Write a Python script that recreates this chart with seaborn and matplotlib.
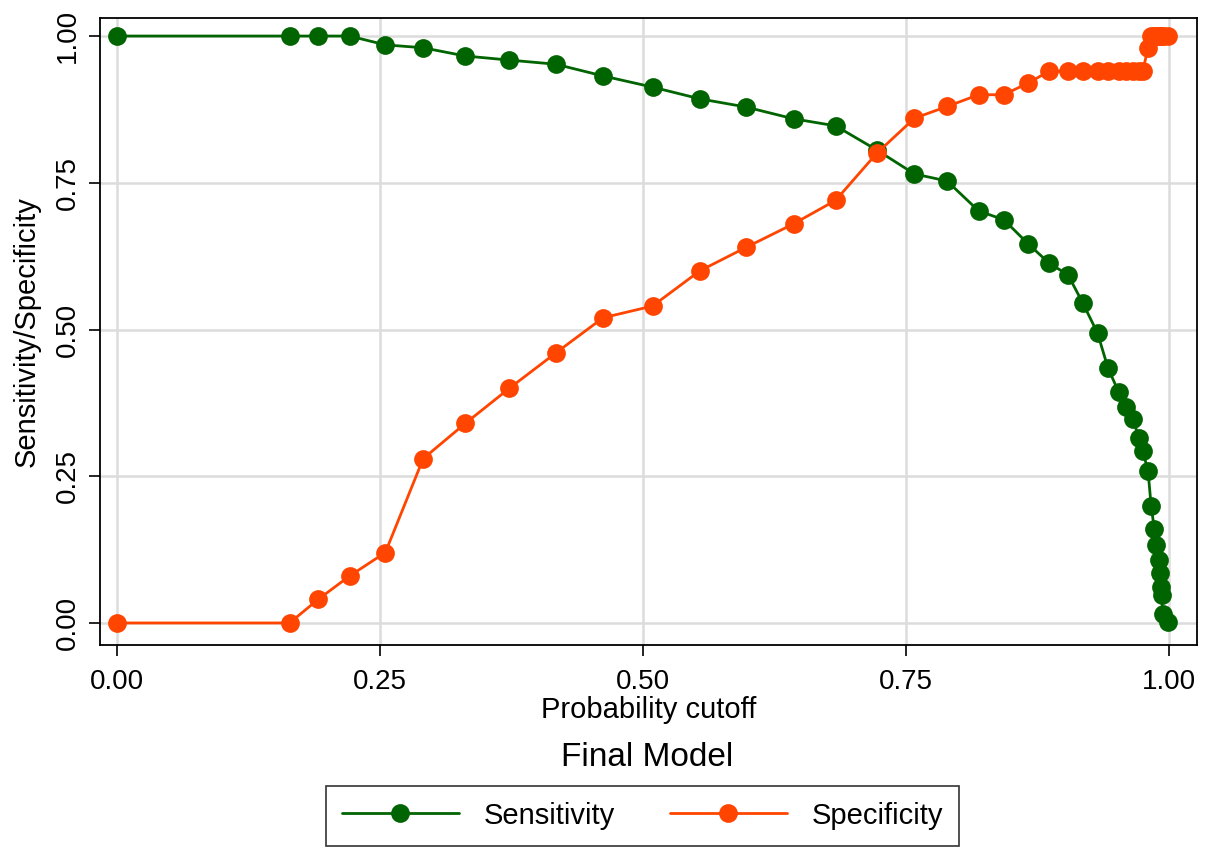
import numpy as np
import pandas as pd
import seaborn as sns
import matplotlib.pyplot as plt

# probability cutoffs and the two curves
cutoff = [0.0, 0.164, 0.191, 0.221, 0.255, 0.291, 0.331, 0.373, 0.417, 0.462,
          0.509, 0.554, 0.598, 0.643, 0.683, 0.722, 0.758, 0.789, 0.819, 0.843,
          0.866, 0.886, 0.904, 0.918, 0.932, 0.942, 0.952, 0.959, 0.966, 0.971,
          0.975, 0.980, 0.983, 0.986, 0.988, 0.990, 0.991, 0.992, 0.993, 0.994,
          0.999]
sensitivity = [1.0, 1.0, 1.0, 1.0, 0.985, 0.980, 0.966, 0.959, 0.952, 0.932,
               0.913, 0.893, 0.879, 0.859, 0.847, 0.806, 0.765, 0.753, 0.702, 0.687,
               0.646, 0.613, 0.593, 0.545, 0.494, 0.434, 0.394, 0.368, 0.348, 0.315,
               0.293, 0.259, 0.199, 0.160, 0.133, 0.107, 0.085, 0.061, 0.048, 0.015,
               0.002]
specificity = [0.0, 0.0, 0.04, 0.08, 0.12, 0.28, 0.34, 0.40, 0.46, 0.52,
               0.54, 0.60, 0.64, 0.68, 0.72, 0.80, 0.86, 0.88, 0.90, 0.90,
               0.92, 0.94, 0.94, 0.94, 0.94, 0.94, 0.94, 0.94, 0.94, 0.94,
               0.94, 0.98, 1.0, 1.0, 1.0, 1.0, 1.0, 1.0, 1.0, 1.0,
               1.0]
ticks = [0.0, 0.25, 0.5, 0.75, 1.0]
tick_labels = ['0.00', '0.25', '0.50', '0.75', '1.00']

df = pd.DataFrame({
    'cutoff': cutoff * 2,
    'value': sensitivity + specificity,
    'series': ['Sensitivity'] * len(cutoff) + ['Specificity'] * len(cutoff),
})

sns.set_style('white')
plt.rcParams['font.family'] = ['Liberation Sans', 'DejaVu Sans']
plt.rcParams['text.color'] = 'black'
plt.rcParams['axes.labelcolor'] = 'black'
plt.rcParams['xtick.color'] = 'black'
plt.rcParams['ytick.color'] = 'black'

fig = plt.figure(figsize=(12.17, 8.5), dpi=100)
ax = fig.add_axes([0.0822, 0.2412, 0.9014, 0.7376])

palette = {'Sensitivity': '#006400', 'Specificity': '#ff4500'}
sns.lineplot(data=df, x='cutoff', y='value', hue='series', palette=palette,
             marker='o', markersize=13.5, markeredgewidth=0, linewidth=2.0,
             estimator=None, sort=False, ax=ax, zorder=3)

ax.set_xlim(-0.0162, 1.0266)
ax.set_ylim(-0.0375, 1.0307)
ax.set_xticks(ticks)
ax.set_xticklabels(tick_labels)
ax.set_yticks(ticks)
ax.set_yticklabels(tick_labels, rotation=90, va='center')
ax.tick_params(axis='both', labelsize=20, length=8, width=1.2, direction='out',
               bottom=True, left=True, color='black')
ax.tick_params(axis='x', pad=9)
ax.tick_params(axis='y', pad=6)
ax.grid(True, color='#dcdcdc', linewidth=1.8, zorder=0)
for s in ax.spines.values():
    s.set_color('black')
    s.set_linewidth(1.3)

ax.set_xlabel('Probability cutoff', fontsize=21, labelpad=1)
ax.set_ylabel('Sensitivity/Specificity', fontsize=21, labelpad=10)

fig.text(0.532, 1 - 757 / 850, 'Final Model', fontsize=24, ha='center', va='center')

handles, labels = ax.get_legend_handles_labels()
ax.get_legend().remove()
leg = fig.legend(handles, labels, loc='lower center', bbox_to_anchor=(0.528, 0.0),
                 ncol=2, fontsize=21, frameon=True, fancybox=False,
                 handlelength=4.0, handletextpad=0.85, columnspacing=1.9,
                 borderpad=0.55, borderaxespad=0.15)
leg.get_frame().set_edgecolor('black')
leg.get_frame().set_linewidth(1.2)

fig.savefig('out.png', dpi=100)
